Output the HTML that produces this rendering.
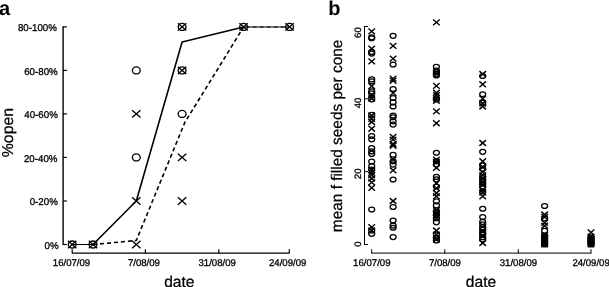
<!DOCTYPE html><html><head><meta charset="utf-8"><title>figure</title>
<style>html,body{margin:0;padding:0;background:#fff;}svg{display:block;}text{font-family:"Liberation Sans",sans-serif;fill:#000;text-rendering:geometricPrecision;}</style></head><body>
<svg width="609" height="287" viewBox="0 0 609 287">
<rect width="609" height="287" fill="#fff"/>
<text x="-1.1" y="14.7" font-size="20" font-weight="bold">a</text>
<g stroke="#000" stroke-width="1.2" fill="none">
<path stroke-width="1.4" d="M63.1 26.299999999999997V245.1"/>
<path d="M63.1 26.9H66.9"/>
<path d="M63.1 70.4H66.9"/>
<path d="M63.1 113.9H66.9"/>
<path d="M63.1 157.4H66.9"/>
<path d="M63.1 201.0H66.9"/>
<path d="M63.1 244.5H66.9"/>
<path d="M72.2 253.1H289.3"/>
<path d="M72.2 253.6V249.3"/>
<path d="M145.4 253.6V249.3"/>
<path d="M218.8 253.6V249.3"/>
<path d="M289.3 253.6V249.3"/>
</g>
<text transform="translate(56.90,31.20) scale(0.985,1)" font-size="9.9" text-anchor="end" stroke="#000" stroke-width="0.3">80-100%</text>
<text transform="translate(57.70,74.70) scale(0.985,1)" font-size="9.9" text-anchor="end" stroke="#000" stroke-width="0.3">60-80%</text>
<text transform="translate(57.80,118.20) scale(0.985,1)" font-size="9.9" text-anchor="end" stroke="#000" stroke-width="0.3">40-60%</text>
<text transform="translate(57.50,161.70) scale(0.985,1)" font-size="9.9" text-anchor="end" stroke="#000" stroke-width="0.3">20-40%</text>
<text transform="translate(57.80,205.30) scale(0.985,1)" font-size="9.9" text-anchor="end" stroke="#000" stroke-width="0.3">0-20%</text>
<text transform="translate(58.60,248.80) scale(0.985,1)" font-size="9.9" text-anchor="end" stroke="#000" stroke-width="0.3">0%</text>
<text transform="translate(71.50,265.80) scale(0.98,1)" font-size="9.8" text-anchor="middle" stroke="#000" stroke-width="0.3">16/07/09</text>
<text transform="translate(143.90,265.80) scale(0.98,1)" font-size="9.8" text-anchor="middle" stroke="#000" stroke-width="0.3">7/08/09</text>
<text transform="translate(217.20,265.80) scale(0.98,1)" font-size="9.8" text-anchor="middle" stroke="#000" stroke-width="0.3">31/08/09</text>
<text transform="translate(287.70,265.80) scale(0.98,1)" font-size="9.8" text-anchor="middle" stroke="#000" stroke-width="0.3">24/09/09</text>
<text transform="translate(179.30,286.80)" font-size="15.6" text-anchor="middle" stroke="#000" stroke-width="0.25">date</text>
<text transform="translate(13.00,132.60) rotate(-90)" font-size="15.8" text-anchor="middle" stroke="#000" stroke-width="0.25">%open</text>
<g stroke="#000" stroke-width="1.6" fill="none" stroke-linejoin="round">
<path stroke-width="1.05" d="M72.2 244.5L93.0 244.5"/>
<path d="M93.0 244.5L136.3 201L182.1 42.0L243.6 27"/>
<path stroke-width="1.05" d="M243.6 27L289.6 27"/>
<path stroke-width="1.05" stroke-dasharray="4.1 2.9" d="M245.6 27L289.6 27"/>
<path stroke-width="1.05" stroke-dasharray="4.1 2.9" d="M72.2 244.5L93.0 244.5"/>
<path stroke-dasharray="4.1 2.9" d="M93.0 244.5L136.3 240.5L184.8 122.5L243.6 27"/>
</g>
<g stroke="#000" stroke-width="1.35" fill="none">
<ellipse cx="72.2" cy="244.5" rx="3.9" ry="3.5"/>
<ellipse cx="93.0" cy="244.5" rx="3.9" ry="3.5"/>
<ellipse cx="136.3" cy="70.4" rx="3.9" ry="3.5"/>
<ellipse cx="136.3" cy="157.4" rx="3.9" ry="3.5"/>
<ellipse cx="182.1" cy="26.9" rx="3.9" ry="3.5"/>
<ellipse cx="182.1" cy="70.4" rx="3.9" ry="3.5"/>
<ellipse cx="182.1" cy="113.9" rx="3.9" ry="3.5"/>
<ellipse cx="243.6" cy="26.9" rx="3.9" ry="3.5"/>
<ellipse cx="289.6" cy="26.9" rx="3.9" ry="3.5"/>
<path d="M68.0 240.8L76.4 248.2M68.0 248.2L76.4 240.8"/>
<path d="M88.8 240.8L97.2 248.2M88.8 248.2L97.2 240.8"/>
<path d="M132.1 110.2L140.5 117.6M132.1 117.6L140.5 110.2"/>
<path d="M132.1 197.3L140.5 204.7M132.1 204.7L140.5 197.3"/>
<path d="M132.1 240.8L140.5 248.2M132.1 248.2L140.5 240.8"/>
<path d="M177.9 23.2L186.3 30.6M177.9 30.6L186.3 23.2"/>
<path d="M177.9 66.7L186.3 74.1M177.9 74.1L186.3 66.7"/>
<path d="M177.9 153.7L186.3 161.1M177.9 161.1L186.3 153.7"/>
<path d="M177.9 197.3L186.3 204.7M177.9 204.7L186.3 197.3"/>
<path d="M239.4 23.2L247.8 30.6M239.4 30.6L247.8 23.2"/>
<path d="M285.4 23.2L293.8 30.6M285.4 30.6L293.8 23.2"/>
</g>
<text x="328.3" y="14.7" font-size="20" font-weight="bold">b</text>
<g stroke="#000" stroke-width="1.0" fill="none">
<path d="M364.5 26.0V245.0"/>
<path d="M364.5 26.5H368.1"/>
<path d="M364.5 98.8H368.1"/>
<path d="M364.5 171.6H368.1"/>
<path d="M364.5 244.5H368.1"/>
<path d="M371.7 253.1H591.0"/>
<path d="M371.7 253.6V249.3"/>
<path d="M444.8 253.6V249.3"/>
<path d="M518.3 253.6V249.3"/>
<path d="M591.0 253.6V249.3"/>
</g>
<text transform="translate(360.60,32.60) rotate(-90) scale(1.03,1)" font-size="9.3" text-anchor="middle" stroke="#000" stroke-width="0.3">60</text>
<text transform="translate(361.40,102.90) rotate(-90) scale(1.03,1)" font-size="9.3" text-anchor="middle" stroke="#000" stroke-width="0.3">40</text>
<text transform="translate(361.10,173.80) rotate(-90) scale(1.03,1)" font-size="9.3" text-anchor="middle" stroke="#000" stroke-width="0.3">20</text>
<text transform="translate(361.20,244.20) rotate(-90) scale(1.03,1)" font-size="9.3" text-anchor="middle" stroke="#000" stroke-width="0.3">0</text>
<text transform="translate(371.80,265.80) scale(0.98,1)" font-size="9.8" text-anchor="middle" stroke="#000" stroke-width="0.3">16/07/09</text>
<text transform="translate(444.90,265.80) scale(0.98,1)" font-size="9.8" text-anchor="middle" stroke="#000" stroke-width="0.3">7/08/09</text>
<text transform="translate(518.40,265.80) scale(0.98,1)" font-size="9.8" text-anchor="middle" stroke="#000" stroke-width="0.3">31/08/09</text>
<text transform="translate(591.10,265.80) scale(0.98,1)" font-size="9.8" text-anchor="middle" stroke="#000" stroke-width="0.3">24/09/09</text>
<text transform="translate(481.00,286.80)" font-size="15.6" text-anchor="middle" stroke="#000" stroke-width="0.25">date</text>
<text transform="translate(342.30,135.90) rotate(-90)" font-size="15.4" text-anchor="middle" stroke="#000" stroke-width="0.25">mean f filled seeds per cone</text>
<g stroke="#000" stroke-width="1.25" fill="none">
<ellipse cx="371.7" cy="37.3" rx="3.0" ry="2.45"/>
<ellipse cx="371.7" cy="38.2" rx="3.0" ry="2.45"/>
<ellipse cx="371.7" cy="52.0" rx="3.0" ry="2.45"/>
<ellipse cx="371.7" cy="53.6" rx="3.0" ry="2.45"/>
<ellipse cx="371.7" cy="79.4" rx="3.0" ry="2.45"/>
<ellipse cx="371.7" cy="81.4" rx="3.0" ry="2.45"/>
<ellipse cx="371.7" cy="91.3" rx="3.0" ry="2.45"/>
<ellipse cx="371.7" cy="93.4" rx="3.0" ry="2.45"/>
<ellipse cx="371.7" cy="99.3" rx="3.0" ry="2.45"/>
<ellipse cx="371.7" cy="114.7" rx="3.0" ry="2.45"/>
<ellipse cx="371.7" cy="136.0" rx="3.0" ry="2.45"/>
<ellipse cx="371.7" cy="139.3" rx="3.0" ry="2.45"/>
<ellipse cx="371.7" cy="148.1" rx="3.0" ry="2.45"/>
<ellipse cx="371.7" cy="151.4" rx="3.0" ry="2.45"/>
<ellipse cx="371.7" cy="153.9" rx="3.0" ry="2.45"/>
<ellipse cx="371.7" cy="161.6" rx="3.0" ry="2.45"/>
<ellipse cx="371.7" cy="166.0" rx="3.0" ry="2.45"/>
<ellipse cx="371.7" cy="169.5" rx="3.0" ry="2.45"/>
<ellipse cx="371.7" cy="209.5" rx="3.0" ry="2.45"/>
<ellipse cx="371.7" cy="230.5" rx="3.0" ry="2.45"/>
<ellipse cx="371.7" cy="233.8" rx="3.0" ry="2.45"/>
<path d="M368.4 28.5L375.0 34.3M368.4 34.3L375.0 28.5" stroke-width="1.4"/>
<path d="M368.4 45.8L375.0 51.6M368.4 51.6L375.0 45.8" stroke-width="1.4"/>
<path d="M368.4 58.5L375.0 64.3M368.4 64.3L375.0 58.5" stroke-width="1.4"/>
<path d="M368.4 83.3L375.0 89.1M368.4 89.1L375.0 83.3" stroke-width="1.4"/>
<path d="M368.4 92.3L375.0 98.1M368.4 98.1L375.0 92.3" stroke-width="1.4"/>
<path d="M368.4 95.6L375.0 101.4M368.4 101.4L375.0 95.6" stroke-width="1.4"/>
<path d="M368.4 112.6L375.0 118.4M368.4 118.4L375.0 112.6" stroke-width="1.4"/>
<path d="M368.4 115.9L375.0 121.7M368.4 121.7L375.0 115.9" stroke-width="1.4"/>
<path d="M368.4 119.1L375.0 124.9M368.4 124.9L375.0 119.1" stroke-width="1.4"/>
<path d="M368.4 125.8L375.0 131.6M368.4 131.6L375.0 125.8" stroke-width="1.4"/>
<path d="M368.4 167.4L375.0 173.2M368.4 173.2L375.0 167.4" stroke-width="1.4"/>
<path d="M368.4 169.9L375.0 175.7M368.4 175.7L375.0 169.9" stroke-width="1.4"/>
<path d="M368.4 172.3L375.0 178.1M368.4 178.1L375.0 172.3" stroke-width="1.4"/>
<path d="M368.4 175.6L375.0 181.4M368.4 181.4L375.0 175.6" stroke-width="1.4"/>
<path d="M368.4 179.5L375.0 185.3M368.4 185.3L375.0 179.5" stroke-width="1.4"/>
<path d="M368.4 184.9L375.0 190.7M368.4 190.7L375.0 184.9" stroke-width="1.4"/>
<path d="M368.4 224.3L375.0 230.1M368.4 230.1L375.0 224.3" stroke-width="1.4"/>
<path d="M368.4 227.6L375.0 233.4M368.4 233.4L375.0 227.6" stroke-width="1.4"/>
<ellipse cx="393.1" cy="35.8" rx="3.0" ry="2.45"/>
<ellipse cx="393.1" cy="64.5" rx="3.0" ry="2.45"/>
<ellipse cx="393.1" cy="89.0" rx="3.0" ry="2.45"/>
<ellipse cx="393.1" cy="98.0" rx="3.0" ry="2.45"/>
<ellipse cx="393.1" cy="102.4" rx="3.0" ry="2.45"/>
<ellipse cx="393.1" cy="106.5" rx="3.0" ry="2.45"/>
<ellipse cx="393.1" cy="115.5" rx="3.0" ry="2.45"/>
<ellipse cx="393.1" cy="117.2" rx="3.0" ry="2.45"/>
<ellipse cx="393.1" cy="121.3" rx="3.0" ry="2.45"/>
<ellipse cx="393.1" cy="124.6" rx="3.0" ry="2.45"/>
<ellipse cx="393.1" cy="154.7" rx="3.0" ry="2.45"/>
<ellipse cx="393.1" cy="161.3" rx="3.0" ry="2.45"/>
<ellipse cx="393.1" cy="164.6" rx="3.0" ry="2.45"/>
<ellipse cx="393.1" cy="179.5" rx="3.0" ry="2.45"/>
<ellipse cx="393.1" cy="207.0" rx="3.0" ry="2.45"/>
<ellipse cx="393.1" cy="220.5" rx="3.0" ry="2.45"/>
<ellipse cx="393.1" cy="225.6" rx="3.0" ry="2.45"/>
<ellipse cx="393.1" cy="227.7" rx="3.0" ry="2.45"/>
<ellipse cx="393.1" cy="237.1" rx="3.0" ry="2.45"/>
<path d="M389.8 43.0L396.4 48.8M389.8 48.8L396.4 43.0" stroke-width="1.4"/>
<path d="M389.8 55.7L396.4 61.5M389.8 61.5L396.4 55.7" stroke-width="1.4"/>
<path d="M389.8 75.7L396.4 81.5M389.8 81.5L396.4 75.7" stroke-width="1.4"/>
<path d="M389.8 77.8L396.4 83.6M389.8 83.6L396.4 77.8" stroke-width="1.4"/>
<path d="M389.8 90.2L396.4 96.0M389.8 96.0L396.4 90.2" stroke-width="1.4"/>
<path d="M389.8 134.0L396.4 139.8M389.8 139.8L396.4 134.0" stroke-width="1.4"/>
<path d="M389.8 136.7L396.4 142.5M389.8 142.5L396.4 136.7" stroke-width="1.4"/>
<path d="M389.8 141.1L396.4 146.9M389.8 146.9L396.4 141.1" stroke-width="1.4"/>
<path d="M389.8 142.8L396.4 148.6M389.8 148.6L396.4 142.8" stroke-width="1.4"/>
<path d="M389.8 156.7L396.4 162.5M389.8 162.5L396.4 156.7" stroke-width="1.4"/>
<path d="M389.8 167.4L396.4 173.2M389.8 173.2L396.4 167.4" stroke-width="1.4"/>
<path d="M389.8 198.1L396.4 203.9M389.8 203.9L396.4 198.1" stroke-width="1.4"/>
<ellipse cx="436.4" cy="66.8" rx="3.0" ry="2.45"/>
<ellipse cx="436.4" cy="70.6" rx="3.0" ry="2.45"/>
<ellipse cx="436.4" cy="72.2" rx="3.0" ry="2.45"/>
<ellipse cx="436.4" cy="73.9" rx="3.0" ry="2.45"/>
<ellipse cx="436.4" cy="75.5" rx="3.0" ry="2.45"/>
<ellipse cx="436.4" cy="99.3" rx="3.0" ry="2.45"/>
<ellipse cx="436.4" cy="152.7" rx="3.0" ry="2.45"/>
<ellipse cx="436.4" cy="161.3" rx="3.0" ry="2.45"/>
<ellipse cx="436.4" cy="164.6" rx="3.0" ry="2.45"/>
<ellipse cx="436.4" cy="176.9" rx="3.0" ry="2.45"/>
<ellipse cx="436.4" cy="179.3" rx="3.0" ry="2.45"/>
<ellipse cx="436.4" cy="186.5" rx="3.0" ry="2.45"/>
<ellipse cx="436.4" cy="201.3" rx="3.0" ry="2.45"/>
<ellipse cx="436.4" cy="205.4" rx="3.0" ry="2.45"/>
<ellipse cx="436.4" cy="211.6" rx="3.0" ry="2.45"/>
<ellipse cx="436.4" cy="214.9" rx="3.0" ry="2.45"/>
<ellipse cx="436.4" cy="218.2" rx="3.0" ry="2.45"/>
<ellipse cx="436.4" cy="222.3" rx="3.0" ry="2.45"/>
<ellipse cx="436.4" cy="234.6" rx="3.0" ry="2.45"/>
<ellipse cx="436.4" cy="237.9" rx="3.0" ry="2.45"/>
<ellipse cx="436.4" cy="240.4" rx="3.0" ry="2.45"/>
<path d="M433.1 19.5L439.7 25.3M433.1 25.3L439.7 19.5" stroke-width="1.4"/>
<path d="M433.1 83.0L439.7 88.8M433.1 88.8L439.7 83.0" stroke-width="1.4"/>
<path d="M433.1 89.9L439.7 95.7M433.1 95.7L439.7 89.9" stroke-width="1.4"/>
<path d="M433.1 92.3L439.7 98.1M433.1 98.1L439.7 92.3" stroke-width="1.4"/>
<path d="M433.1 95.4L439.7 101.2M433.1 101.2L439.7 95.4" stroke-width="1.4"/>
<path d="M433.1 97.8L439.7 103.6M433.1 103.6L439.7 97.8" stroke-width="1.4"/>
<path d="M433.1 108.5L439.7 114.3M433.1 114.3L439.7 108.5" stroke-width="1.4"/>
<path d="M433.1 120.3L439.7 126.1M433.1 126.1L439.7 120.3" stroke-width="1.4"/>
<path d="M433.1 156.7L439.7 162.5M433.1 162.5L439.7 156.7" stroke-width="1.4"/>
<path d="M433.1 159.1L439.7 164.9M433.1 164.9L439.7 159.1" stroke-width="1.4"/>
<path d="M433.1 164.9L439.7 170.7M433.1 170.7L439.7 164.9" stroke-width="1.4"/>
<path d="M433.1 180.3L439.7 186.1M433.1 186.1L439.7 180.3" stroke-width="1.4"/>
<path d="M433.1 185.2L439.7 191.0M433.1 191.0L439.7 185.2" stroke-width="1.4"/>
<path d="M433.1 190.1L439.7 195.9M433.1 195.9L439.7 190.1" stroke-width="1.4"/>
<path d="M433.1 193.4L439.7 199.2M433.1 199.2L439.7 193.4" stroke-width="1.4"/>
<path d="M433.1 207.4L439.7 213.2M433.1 213.2L439.7 207.4" stroke-width="1.4"/>
<path d="M433.1 209.9L439.7 215.7M433.1 215.7L439.7 209.9" stroke-width="1.4"/>
<path d="M433.1 212.3L439.7 218.1M433.1 218.1L439.7 212.3" stroke-width="1.4"/>
<path d="M433.1 214.8L439.7 220.6M433.1 220.6L439.7 214.8" stroke-width="1.4"/>
<path d="M433.1 227.6L439.7 233.4M433.1 233.4L439.7 227.6" stroke-width="1.4"/>
<path d="M433.1 231.7L439.7 237.5M433.1 237.5L439.7 231.7" stroke-width="1.4"/>
<path d="M433.1 236.6L439.7 242.4M433.1 242.4L439.7 236.6" stroke-width="1.4"/>
<ellipse cx="482.7" cy="76.0" rx="3.0" ry="2.45"/>
<ellipse cx="482.7" cy="94.2" rx="3.0" ry="2.45"/>
<ellipse cx="482.7" cy="102.7" rx="3.0" ry="2.45"/>
<ellipse cx="482.7" cy="151.8" rx="3.0" ry="2.45"/>
<ellipse cx="482.7" cy="165.5" rx="3.0" ry="2.45"/>
<ellipse cx="482.7" cy="168.7" rx="3.0" ry="2.45"/>
<ellipse cx="482.7" cy="177.0" rx="3.0" ry="2.45"/>
<ellipse cx="482.7" cy="180.2" rx="3.0" ry="2.45"/>
<ellipse cx="482.7" cy="183.5" rx="3.0" ry="2.45"/>
<ellipse cx="482.7" cy="186.6" rx="3.0" ry="2.45"/>
<ellipse cx="482.7" cy="191.5" rx="3.0" ry="2.45"/>
<ellipse cx="482.7" cy="208.7" rx="3.0" ry="2.45"/>
<ellipse cx="482.7" cy="217.0" rx="3.0" ry="2.45"/>
<ellipse cx="482.7" cy="221.9" rx="3.0" ry="2.45"/>
<ellipse cx="482.7" cy="224.3" rx="3.0" ry="2.45"/>
<ellipse cx="482.7" cy="227.3" rx="3.0" ry="2.45"/>
<ellipse cx="482.7" cy="229.8" rx="3.0" ry="2.45"/>
<ellipse cx="482.7" cy="232.2" rx="3.0" ry="2.45"/>
<ellipse cx="482.7" cy="234.7" rx="3.0" ry="2.45"/>
<ellipse cx="482.7" cy="237.2" rx="3.0" ry="2.45"/>
<ellipse cx="482.7" cy="239.6" rx="3.0" ry="2.45"/>
<path d="M479.4 71.1L486.0 76.9M479.4 76.9L486.0 71.1" stroke-width="1.4"/>
<path d="M479.4 81.4L486.0 87.2M479.4 87.2L486.0 81.4" stroke-width="1.4"/>
<path d="M479.4 95.7L486.0 101.5M479.4 101.5L486.0 95.7" stroke-width="1.4"/>
<path d="M479.4 100.6L486.0 106.4M479.4 106.4L486.0 100.6" stroke-width="1.4"/>
<path d="M479.4 103.6L486.0 109.4M479.4 109.4L486.0 103.6" stroke-width="1.4"/>
<path d="M479.4 140.1L486.0 145.9M479.4 145.9L486.0 140.1" stroke-width="1.4"/>
<path d="M479.4 158.4L486.0 164.2M479.4 164.2L486.0 158.4" stroke-width="1.4"/>
<path d="M479.4 164.1L486.0 169.9M479.4 169.9L486.0 164.1" stroke-width="1.4"/>
<path d="M479.4 169.1L486.0 174.9M479.4 174.9L486.0 169.1" stroke-width="1.4"/>
<path d="M479.4 172.4L486.0 178.2M479.4 178.2L486.0 172.4" stroke-width="1.4"/>
<path d="M479.4 175.7L486.0 181.5M479.4 181.5L486.0 175.7" stroke-width="1.4"/>
<path d="M479.4 179.1L486.0 184.9M479.4 184.9L486.0 179.1" stroke-width="1.4"/>
<path d="M479.4 182.1L486.0 187.9M479.4 187.9L486.0 182.1" stroke-width="1.4"/>
<path d="M479.4 187.0L486.0 192.8M479.4 192.8L486.0 187.0" stroke-width="1.4"/>
<path d="M479.4 189.4L486.0 195.2M479.4 195.2L486.0 189.4" stroke-width="1.4"/>
<path d="M479.4 193.5L486.0 199.3M479.4 199.3L486.0 193.5" stroke-width="1.4"/>
<path d="M479.4 228.1L486.0 233.9M479.4 233.9L486.0 228.1" stroke-width="1.4"/>
<path d="M479.4 233.1L486.0 238.9M479.4 238.9L486.0 233.1" stroke-width="1.4"/>
<path d="M479.4 240.1L486.0 245.9M479.4 245.9L486.0 240.1" stroke-width="1.4"/>
<ellipse cx="544.6" cy="206.0" rx="3.0" ry="2.45"/>
<ellipse cx="544.6" cy="218.5" rx="3.0" ry="2.45"/>
<ellipse cx="544.6" cy="230.8" rx="3.0" ry="2.45"/>
<ellipse cx="544.6" cy="235.5" rx="3.0" ry="2.45"/>
<ellipse cx="544.6" cy="236.0" rx="3.0" ry="2.45"/>
<ellipse cx="544.6" cy="238.0" rx="3.0" ry="2.45"/>
<ellipse cx="544.6" cy="240.0" rx="3.0" ry="2.45"/>
<ellipse cx="544.6" cy="242.0" rx="3.0" ry="2.45"/>
<ellipse cx="544.6" cy="243.5" rx="3.0" ry="2.45"/>
<ellipse cx="544.6" cy="244.5" rx="3.0" ry="2.45"/>
<path d="M541.3 211.6L547.9 217.4M541.3 217.4L547.9 211.6" stroke-width="1.4"/>
<path d="M541.3 214.1L547.9 219.9M541.3 219.9L547.9 214.1" stroke-width="1.4"/>
<path d="M541.3 219.8L547.9 225.6M541.3 225.6L547.9 219.8" stroke-width="1.4"/>
<path d="M541.3 222.8L547.9 228.6M541.3 228.6L547.9 222.8" stroke-width="1.4"/>
<path d="M541.3 232.1L547.9 237.9M541.3 237.9L547.9 232.1" stroke-width="1.4"/>
<path d="M541.3 234.1L547.9 239.9M541.3 239.9L547.9 234.1" stroke-width="1.4"/>
<path d="M541.3 236.1L547.9 241.9M541.3 241.9L547.9 236.1" stroke-width="1.4"/>
<path d="M541.3 238.1L547.9 243.9M541.3 243.9L547.9 238.1" stroke-width="1.4"/>
<path d="M541.3 240.1L547.9 245.9M541.3 245.9L547.9 240.1" stroke-width="1.4"/>
<path d="M541.3 241.4L547.9 247.2M541.3 247.2L547.9 241.4" stroke-width="1.4"/>
<ellipse cx="591.0" cy="237.2" rx="3.0" ry="2.45"/>
<ellipse cx="591.0" cy="238.0" rx="3.0" ry="2.45"/>
<ellipse cx="591.0" cy="240.0" rx="3.0" ry="2.45"/>
<ellipse cx="591.0" cy="242.0" rx="3.0" ry="2.45"/>
<ellipse cx="591.0" cy="243.5" rx="3.0" ry="2.45"/>
<ellipse cx="591.0" cy="244.5" rx="3.0" ry="2.45"/>
<path d="M587.7 229.5L594.3 235.3M587.7 235.3L594.3 229.5" stroke-width="1.4"/>
<path d="M587.7 234.1L594.3 239.9M587.7 239.9L594.3 234.1" stroke-width="1.4"/>
<path d="M587.7 236.1L594.3 241.9M587.7 241.9L594.3 236.1" stroke-width="1.4"/>
<path d="M587.7 238.1L594.3 243.9M587.7 243.9L594.3 238.1" stroke-width="1.4"/>
<path d="M587.7 240.1L594.3 245.9M587.7 245.9L594.3 240.1" stroke-width="1.4"/>
<path d="M587.7 241.4L594.3 247.2M587.7 247.2L594.3 241.4" stroke-width="1.4"/>
</g>
</svg></body></html>
